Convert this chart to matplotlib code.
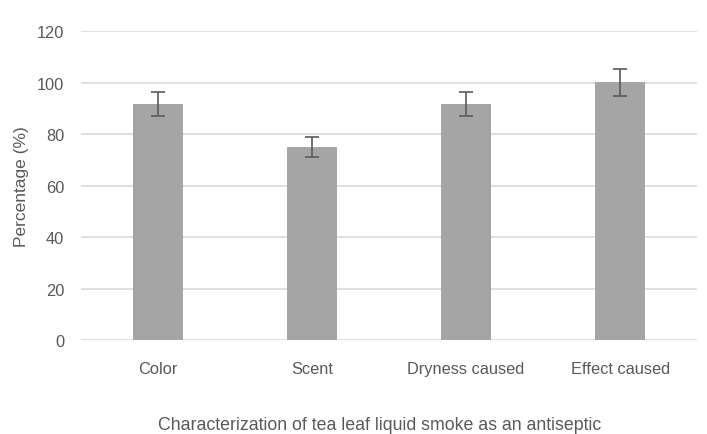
import matplotlib.pyplot as plt

categories = ["Color", "Scent", "Dryness caused", "Effect caused"]
values = [91.7, 75.0, 91.7, 100.2]
errors = [4.5, 3.7, 4.5, 5.2]
y_ticks = [0, 20, 40, 60, 80, 100, 120]

plt.rcParams["font.family"] = ["Liberation Sans", "DejaVu Sans"]
text_color = "#595959"

fig = plt.figure(figsize=(7.07, 4.35), dpi=100)
ax = fig.add_axes([0.1146, 0.216, 0.8714, 0.71])

x = range(len(categories))
ax.bar(x, values, width=0.32, color="#a5a5a5", zorder=2)
ax.errorbar(x, values, yerr=errors, fmt="none", ecolor="#5a5a5a",
            elinewidth=1.2, capsize=5, capthick=1.2, zorder=3)

ax.set_xlim(-0.5, len(categories) - 0.5)
ax.set_ylim(0, 120)
ax.set_yticks(y_ticks)
ax.set_xticks(list(x))
ax.set_xticklabels(categories)
ax.yaxis.grid(True, color="#d9d9d9", linewidth=1.2, zorder=0)
ax.set_axisbelow(True)

for s in ax.spines.values():
    s.set_visible(False)
ax.tick_params(axis="both", length=0, labelsize=11.8, colors=text_color)
ax.tick_params(axis="x", pad=15)
ax.tick_params(axis="y", pad=12)

ax.set_ylabel("Percentage (%)", fontsize=12.5, color=text_color, labelpad=6)
ax.set_xlabel("Characterization of tea leaf liquid smoke as an antiseptic",
              fontsize=12.8, color=text_color, labelpad=29)
ax.xaxis.label.set_x(0.484)

fig.savefig("out.png", dpi=100)
